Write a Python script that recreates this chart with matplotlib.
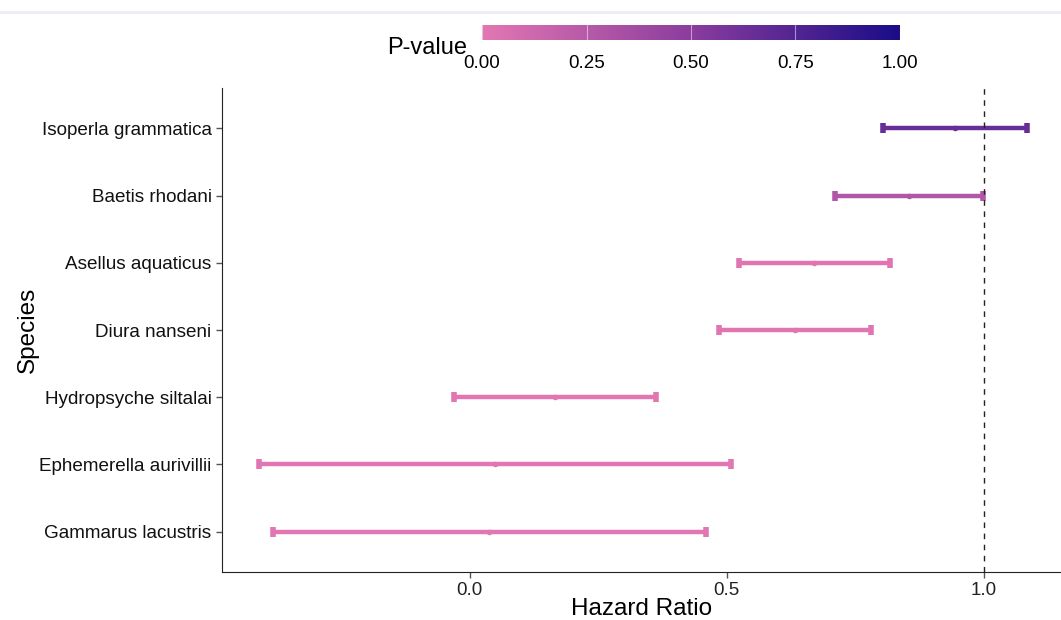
import numpy as np
import matplotlib
matplotlib.use("Agg")
import matplotlib.pyplot as plt
from matplotlib.colors import LinearSegmentedColormap, Normalize
from matplotlib.lines import Line2D

plt.rcParams['font.family'] = ['Liberation Sans', 'DejaVu Sans']

# data, bottom to top
species = ["Gammarus lacustris", "Ephemerella aurivillii", "Hydropsyche siltalai",
           "Diura nanseni", "Asellus aquaticus", "Baetis rhodani", "Isoperla grammatica"]
hr = [0.037, 0.049, 0.165, 0.632, 0.669, 0.854, 0.944]
lower = [-0.383, -0.409, -0.031, 0.484, 0.523, 0.710, 0.804]
upper = [0.459, 0.508, 0.362, 0.780, 0.817, 0.998, 1.084]
pvals = [0.01, 0.01, 0.01, 0.02, 0.02, 0.28, 0.66]
cbar_ticks = [0.0, 0.25, 0.5, 0.75, 1.0]
cbar_labels = ["0.00", "0.25", "0.50", "0.75", "1.00"]

cmap = LinearSegmentedColormap.from_list("pv", ["#e377b3", "#8b3d9e", "#1a0d87"])
norm = Normalize(0, 1)

fig = plt.figure(figsize=(10.61, 6.2), dpi=100)
ax = fig.add_axes([0.2092, 0.0774, 0.7908, 0.7806])

ypos = np.arange(len(species))
for i in range(len(species)):
    c = cmap(norm(pvals[i]))
    ax.errorbar(hr[i], ypos[i], xerr=[[hr[i] - lower[i]], [upper[i] - hr[i]]],
                fmt='none', ecolor=c, elinewidth=3.2, capsize=3.5, capthick=4)
    ax.plot(hr[i], ypos[i], marker='o', ms=4, color=c, mec='none')

ax.axvline(1.0, color='#222222', lw=1, ls=(0, (4, 4)))

ax.set_xlim(-0.482, 1.150)
ax.set_ylim(-0.6, 6.6)
ax.set_yticks(ypos)
ax.set_yticklabels(species, fontsize=13.6)
ax.set_xticks([0.0, 0.5, 1.0])
ax.set_xticklabels(["0.0", "0.5", "1.0"], fontsize=13.5, color='#222222')
ax.tick_params(axis='both', length=4, color='#555555', width=1)
for lab in ax.get_yticklabels():
    lab.set_color('#111111')
ax.spines['top'].set_visible(False)
ax.spines['right'].set_visible(False)
ax.spines['left'].set_color('#222222')
ax.spines['bottom'].set_color('#222222')
ax.set_xlabel("Hazard Ratio", fontsize=17.5, labelpad=-1)
ax.set_ylabel("Species", fontsize=17.5, labelpad=0)

# colorbar
cax = fig.add_axes([482 / 1061, 1 - 40 / 620, 418 / 1061, 15 / 620])
grad = np.linspace(0, 1, 256).reshape(1, -1)
cax.imshow(grad, aspect='auto', cmap=cmap, extent=[0, 1, 0, 1])
for t in cbar_ticks:
    cax.axvline(t, color='white', lw=0.8, alpha=0.5)
cax.set_xlim(0, 1)
cax.set_yticks([])
cax.set_xticks(cbar_ticks)
cax.set_xticklabels(cbar_labels, fontsize=13.5)
cax.tick_params(axis='x', length=0, pad=11)
for s in cax.spines.values():
    s.set_visible(False)
fig.text(387 / 1061, 1 - 48 / 620, "P-value", fontsize=17, va='center', ha='left')

fig.add_artist(Line2D([0, 1], [1 - 12 / 620, 1 - 12 / 620], color='#eceef3', lw=2,
                      transform=fig.transFigure))

fig.savefig("out.png", dpi=100)
